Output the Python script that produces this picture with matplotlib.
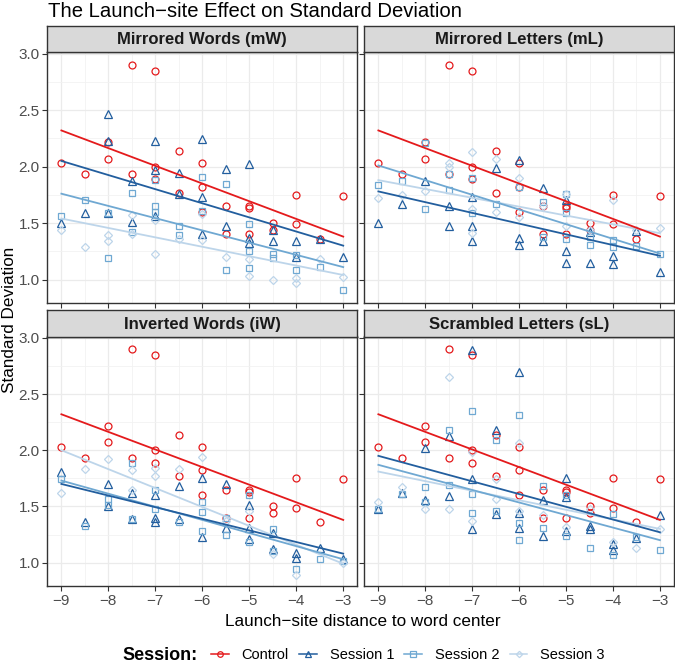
import matplotlib.pyplot as plt
from matplotlib.lines import Line2D

plt.rcParams["font.family"] = ["Liberation Sans", "DejaVu Sans"]

# x positions are launch-site distances (-9 .. -3)
ctrl_x = [-9, -8.5, -8, -8, -7.5, -7.5, -7, -7, -7, -6.5, -6.5, -6, -6, -6,
          -5.5, -5.5, -5, -5, -5, -4.5, -4.5, -4, -4, -3.5, -3]
ctrl_y = [2.03, 1.93, 2.22, 2.07, 2.90, 1.93, 2.85, 2.00, 1.89, 2.14, 1.77, 2.03, 1.82, 1.60,
          1.65, 1.40, 1.65, 1.63, 1.40, 1.50, 1.44, 1.75, 1.49, 1.36, 1.74]

# Mirrored Words (mW)
mw_s1_x = [-9, -8.5, -8, -8, -8, -7.5, -7.5, -7, -7, -7, -6.5, -6.5, -6, -6, -6,
           -5.5, -5.5, -5, -5, -5, -4.5, -4.5, -4, -4, -3.5, -3]
mw_s1_y = [1.50, 1.59, 2.47, 2.23, 1.59, 1.87, 1.51, 2.23, 1.97, 1.56, 1.94, 1.76, 2.24, 1.73, 1.40,
           1.98, 1.47, 2.02, 1.37, 1.32, 1.44, 1.34, 1.34, 1.20, 1.36, 1.20]
mw_s2_x = [-9, -8.5, -8, -8, -7.5, -7.5, -7, -7, -7, -6.5, -6.5, -6, -6,
           -5.5, -5.5, -5, -5, -5, -4.5, -4.5, -4, -4, -3.5, -3]
mw_s2_y = [1.56, 1.70, 1.59, 1.19, 1.77, 1.42, 1.88, 1.65, 1.60, 1.47, 1.39, 1.91, 1.61,
           1.85, 1.08, 1.49, 1.25, 1.10, 1.23, 1.19, 1.22, 1.08, 1.11, 0.91]
mw_s3_x = [-9, -8.5, -8, -8, -7.5, -7.5, -7, -7, -6.5, -6, -6, -5.5, -5, -5,
           -4.5, -4, -4, -3.5, -3]
mw_s3_y = [1.44, 1.29, 1.39, 1.34, 1.57, 1.40, 1.53, 1.23, 1.36, 1.58, 1.35, 1.20, 1.18, 1.03,
           1.00, 1.01, 0.97, 1.18, 1.02]

# Mirrored Letters (mL)
ml_s1_x = [-9, -8.5, -8, -7.5, -7.5, -7, -7, -7, -6.5, -6, -6, -6,
           -5.5, -5.5, -5, -5, -5, -4.5, -4.5, -4, -4, -3.5, -3]
ml_s1_y = [1.50, 1.67, 1.87, 1.65, 1.47, 1.73, 1.47, 1.34, 1.99, 2.06, 1.37, 1.31,
           1.81, 1.34, 1.70, 1.25, 1.15, 1.42, 1.15, 1.21, 1.14, 1.43, 1.07]
ml_s2_x = [-9, -8.5, -8, -8, -7.5, -7.5, -7, -7, -6.5, -6, -5.5, -5.5, -5, -5, -5,
           -4.5, -4.5, -4, -4, -3.5, -3]
ml_s2_y = [1.84, 1.87, 2.21, 1.62, 1.93, 1.79, 1.90, 1.59, 1.67, 1.82, 1.69, 1.38, 1.76, 1.59, 1.36,
           1.38, 1.31, 1.35, 1.29, 1.30, 1.23]
ml_s3_x = [-9, -8.5, -8, -7.5, -7.5, -7, -7, -7, -6.5, -6.5, -6, -6, -5.5, -5, -5,
           -4.5, -4, -3.5, -3]
ml_s3_y = [1.72, 1.75, 1.78, 2.03, 2.00, 2.13, 1.62, 1.41, 2.07, 1.60, 1.90, 1.55, 1.65, 1.76, 1.47,
           1.44, 1.70, 1.44, 1.46]

# Inverted Words (iW)
iw_s1_x = [-9, -8.5, -8, -8, -7.5, -7.5, -7, -7, -7, -6.5, -6.5, -6, -6, -5.5, -5.5,
           -5, -5, -5, -4.5, -4.5, -4, -4, -3.5, -3]
iw_s1_y = [1.81, 1.36, 1.70, 1.50, 1.62, 1.39, 1.60, 1.40, 1.36, 1.68, 1.39, 1.75, 1.23, 1.70, 1.31,
           1.51, 1.31, 1.21, 1.26, 1.12, 1.09, 1.04, 1.13, 1.03]
iw_s2_x = [-9, -8.5, -8, -8, -7.5, -7.5, -7, -7, -6.5, -6, -6, -6, -5.5, -5.5,
           -5, -5, -4.5, -4.5, -4, -3.5, -3]
iw_s2_y = [1.74, 1.33, 1.57, 1.51, 1.89, 1.39, 1.65, 1.48, 1.36, 1.54, 1.45, 1.28, 1.40, 1.25,
           1.60, 1.18, 1.30, 1.10, 0.94, 1.03, 1.01]
iw_s3_x = [-9, -8.5, -8, -7.5, -7.5, -7, -7, -6.5, -6, -5.5, -5, -4.5, -4, -3]
iw_s3_y = [1.62, 1.83, 1.92, 1.82, 1.65, 1.84, 1.77, 1.83, 1.94, 1.37, 1.46, 1.08, 0.89, 1.00]

# Scrambled Letters (sL)
sl_s1_x = [-9, -8.5, -8, -8, -7.5, -7.5, -7, -7, -7, -6.5, -6.5, -6, -6, -6,
           -5.5, -5.5, -5, -5, -5, -4.5, -4.5, -4, -4, -3.5, -3]
sl_s1_y = [1.48, 1.62, 2.02, 1.56, 2.13, 1.59, 2.89, 1.74, 1.30, 2.18, 1.43, 2.70, 1.44, 1.31,
           1.56, 1.24, 1.75, 1.58, 1.28, 1.33, 1.30, 1.17, 1.11, 1.22, 1.42]
sl_s2_x = [-9, -8.5, -8, -8, -7.5, -7.5, -7, -7, -7, -6.5, -6.5, -6, -6, -6,
           -5.5, -5.5, -5, -5, -4.5, -4, -4, -3.5, -3]
sl_s2_y = [1.48, 1.61, 1.67, 1.54, 2.18, 1.69, 2.35, 1.61, 1.44, 2.09, 1.46, 2.31, 1.35, 1.20,
           1.68, 1.31, 1.60, 1.24, 1.13, 1.43, 1.07, 1.23, 1.11]
sl_s3_x = [-9, -8.5, -8, -7.5, -7.5, -7, -7, -6.5, -6.5, -6, -6, -5.5, -5, -4.5,
           -4, -3.5, -3]
sl_s3_y = [1.54, 1.67, 1.48, 2.65, 1.48, 1.98, 1.37, 1.74, 1.57, 2.06, 1.46, 1.42, 1.32, 1.48,
           1.18, 1.13, 1.30]

# linear-trend end values at x = -9 and x = -3
fit_ctrl = (2.32, 1.38)
fit_mw = [(2.05, 1.30), (1.76, 1.11), (1.54, 1.04)]
fit_ml = [(1.78, 1.21), (2.01, 1.23), (1.88, 1.41)]
fit_iw = [(1.70, 1.08), (1.73, 1.03), (2.00, 0.99)]
fit_sl = [(1.95, 1.27), (1.87, 1.20), (1.81, 1.30)]

sessions = ["Control", "Session 1", "Session 2", "Session 3"]
colors = ["#E41A1C", "#225E9E", "#6FA8D2", "#BDD5EA"]
markers = ["o", "^", "s", "D"]
msizes = [5.0, 5.6, 5.0, 4.0]

panels = [
    ("Mirrored Words (mW)", [(mw_s1_x, mw_s1_y), (mw_s2_x, mw_s2_y), (mw_s3_x, mw_s3_y)], fit_mw),
    ("Mirrored Letters (mL)", [(ml_s1_x, ml_s1_y), (ml_s2_x, ml_s2_y), (ml_s3_x, ml_s3_y)], fit_ml),
    ("Inverted Words (iW)", [(iw_s1_x, iw_s1_y), (iw_s2_x, iw_s2_y), (iw_s3_x, iw_s3_y)], fit_iw),
    ("Scrambled Letters (sL)", [(sl_s1_x, sl_s1_y), (sl_s2_x, sl_s2_y), (sl_s3_x, sl_s3_y)], fit_sl),
]

W, H = 675, 666
fig = plt.figure(figsize=(W / 100, H / 100), dpi=100)

# panel boxes in pixels: (left, top, right, bottom)
cols = [(47.3, 357.3), (364.3, 674.0)]
rows = [(52.3, 303.0), (336.5, 586.0)]
strip_h = 26.3

for i, (title, series, fits) in enumerate(panels):
    l, r = cols[i % 2]
    t, b = rows[i // 2]
    ax = fig.add_axes([l / W, 1 - b / H, (r - l) / W, (b - t) / H])
    sax = fig.add_axes([l / W, 1 - t / H, (r - l) / W, strip_h / H])

    ax.set_xlim(-9.3, -2.7)
    ax.set_ylim(0.792, 3.012)
    ax.set_xticks(range(-9, -2))
    ax.set_xticks([-8.5, -7.5, -6.5, -5.5, -4.5, -3.5], minor=True)
    ax.set_yticks([1.0, 1.5, 2.0, 2.5, 3.0])
    ax.set_yticks([1.25, 1.75, 2.25, 2.75], minor=True)
    ax.grid(which="major", color="#EBEBEB", lw=0.9, zorder=0)
    ax.grid(which="minor", color="#F2F2F2", lw=0.6, zorder=0)
    ax.set_axisbelow(True)
    for sp in ax.spines.values():
        sp.set_color("#333333")
        sp.set_linewidth(1.0)
    ax.tick_params(which="minor", length=0)
    ax.tick_params(which="major", length=3.8, width=0.8, color="#333333",
                   labelcolor="#4D4D4D", labelsize=11, pad=1.8)
    if i % 2 == 1:
        ax.tick_params(labelleft=False)
    if i // 2 == 0:
        ax.tick_params(labelbottom=False)
    ax.set_xticklabels(["\u22129", "\u22128", "\u22127", "\u22126", "\u22125", "\u22124", "\u22123"]
                       if i // 2 == 1 else [""] * 7)

    all_series = [(ctrl_x, ctrl_y)] + series
    for k, (xs, ys) in enumerate(all_series):
        ax.plot(xs, ys, ls="none", marker=markers[k], ms=msizes[k], mfc="none",
                mec=colors[k], mew=0.9, zorder=3)
    all_fits = [fit_ctrl] + fits
    for k in range(3, -1, -1):
        ax.plot([-9, -3], all_fits[k], color=colors[k], lw=1.3, zorder=4)

    sax.set_xlim(0, 1)
    sax.set_ylim(0, 1)
    sax.set_xticks([])
    sax.set_yticks([])
    sax.set_facecolor("#D9D9D9")
    for sp in sax.spines.values():
        sp.set_color("#333333")
        sp.set_linewidth(1.0)
    sax.text(0.5, 0.47, title, ha="center", va="center", fontsize=12,
             fontweight="bold", color="#1A1A1A")

fig.text(48 / W, 1 - 17 / H, "The Launch\u2212site Effect on Standard Deviation",
         ha="left", va="baseline", fontsize=14.6)
fig.text(10 / W, 1 - 320 / H, "Standard Deviation", rotation=90,
         ha="center", va="center", fontsize=12.3)
fig.text(363 / W, 1 - 621 / H, "Launch\u2212site distance to word center",
         ha="center", va="center", fontsize=12.3)

fig.text(122 / W, 1 - 655 / H, "Session:", ha="left", va="center",
         fontsize=13, fontweight="bold")
handles = [Line2D([], [], color=c, marker=m, ms=s * 0.8, mfc="none", mec=c, mew=0.9, lw=1.1)
           for c, m, s in zip(colors, markers, msizes)]
fig.legend(handles, sessions, loc="center left", bbox_to_anchor=(211 / W, 1 - 655 / H),
           ncol=4, frameon=False, fontsize=10.5, handlelength=1.2, handletextpad=0.9,
           columnspacing=0.7, borderaxespad=0, borderpad=0)

fig.savefig("out.png", dpi=100)
